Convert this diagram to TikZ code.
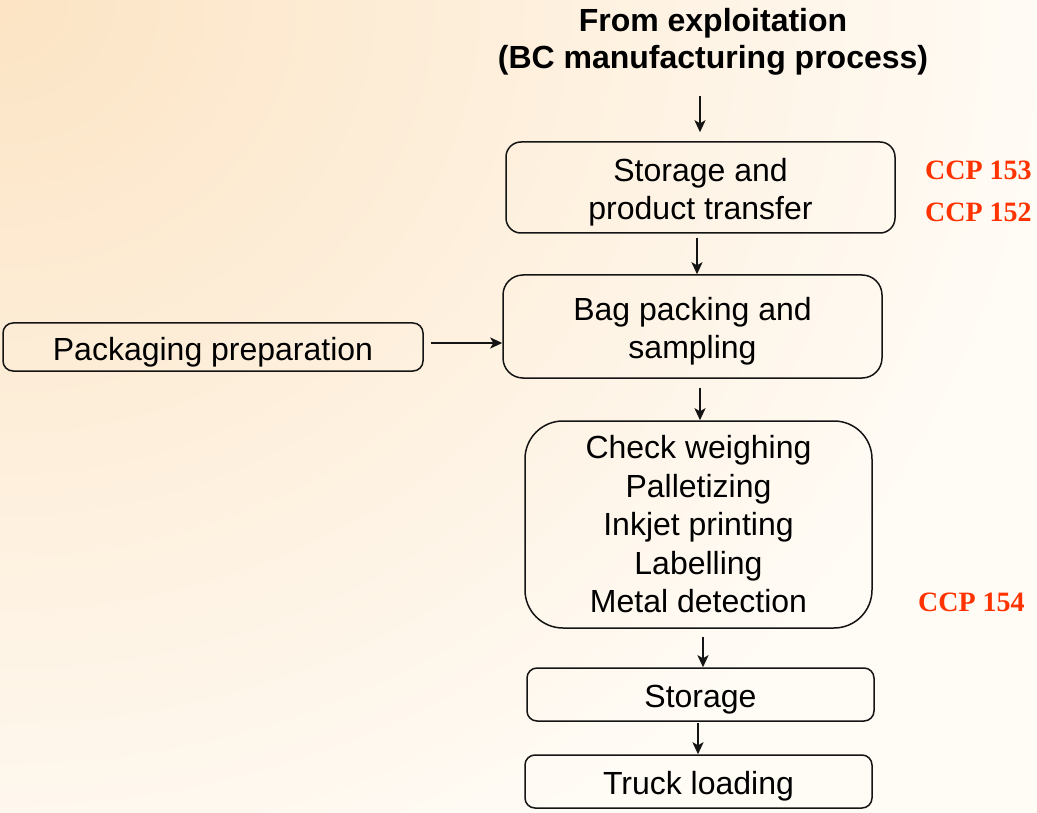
\documentclass[tikz,border=0pt]{standalone}
\usepackage{fontspec}
\newfontfamily\arialf{Liberation Sans}
\newfontfamily\serifb{Liberation Serif}
\usetikzlibrary{arrows.meta}
\definecolor{bgA}{HTML}{FCE4C4}
\definecolor{bgB}{HTML}{FFFBF5}
\definecolor{ccpred}{HTML}{FF3300}
\definecolor{edge}{HTML}{141414}
\newcommand{\lowstrut}{\rule{0pt}{33pt}}
\tikzset{
  stepbox/.style={draw=edge, line width=1.5pt, align=center, inner sep=0pt,
    font=\arialf\fontsize{32}{38.5}\selectfont, text=black},
  arr/.style={draw=edge, line width=2pt, -{Stealth[length=12pt,width=11pt,inset=3pt]}},
  ccp/.style={anchor=west, inner sep=0pt, text=ccpred, font=\serifb\bfseries\fontsize{28}{30}\selectfont},
}
\begin{document}
\begin{tikzpicture}[x=1pt,y=-1pt]
\useasboundingbox (0,0) rectangle (1037,813);
\fill[bgB] (0,0) rectangle (1037,813);
\begin{scope}
\clip (0,0) rectangle (1037,813);
\shade[inner color=bgA, outer color=bgB] (0,0) ellipse [x radius=1050, y radius=950];
\end{scope}

\node[align=center, font=\arialf\bfseries\fontsize{32}{37}\selectfont, inner sep=0pt] (title) at (713,42)
  {From exploitation\\(BC manufacturing process)};

\node[stepbox, rounded corners=15pt, minimum width=389pt, minimum height=91pt] (b1) at (700.5,187.5)
  {\lowstrut Storage and\\product transfer};
\node[stepbox, rounded corners=20pt, minimum width=379pt, minimum height=103pt] (b2) at (692.5,326.5)
  {\lowstrut Bag packing and\\sampling};
\node[stepbox, rounded corners=10pt, minimum width=420pt, minimum height=48pt] (pack) at (213,347)
  {\lowstrut Packaging preparation};
\node[stepbox, rounded corners=38pt, minimum width=347pt, minimum height=207pt] (b3) at (698.5,524.5)
  {Check weighing\\Palletizing\\Inkjet printing\\Labelling\\Metal detection};
\node[stepbox, rounded corners=10pt, minimum width=347pt, minimum height=53pt] (st) at (700.5,694.5)
  {\lowstrut Storage};
\node[stepbox, rounded corners=10pt, minimum width=347pt, minimum height=53pt] (tr) at (698.5,781.5)
  {\lowstrut Truck loading};

\node[ccp] (c153) at (925,170) {CCP 153};
\node[ccp] (c152) at (925,212) {CCP 152};
\node[ccp] (c154) at (918,602) {CCP 154};

\draw[arr] ([xshift=-0.5pt,yshift=45pt]b1.north) -- ([xshift=-0.5pt,yshift=9pt]b1.north);
\draw[arr] ([xshift=-3.5pt,yshift=-4pt]b1.south) -- ([xshift=-3.5pt]b1.south |- b2.north);
\draw[arr] ([xshift=7.5pt,yshift=-9pt]b2.south) -- ([xshift=7.5pt]b2.south |- b3.north);
\draw[arr] ([xshift=4.5pt,yshift=-8pt]b3.south) -- ([xshift=4.5pt]b3.south |- st.north);
\draw[arr] ([xshift=-2.5pt,yshift=-1pt]st.south) -- ([xshift=-2.5pt]st.south |- tr.north);
\draw[arr] ([xshift=7pt,yshift=4pt]pack.east) -- ([yshift=4pt]pack.east -| b2.west);
\end{tikzpicture}
\end{document}
